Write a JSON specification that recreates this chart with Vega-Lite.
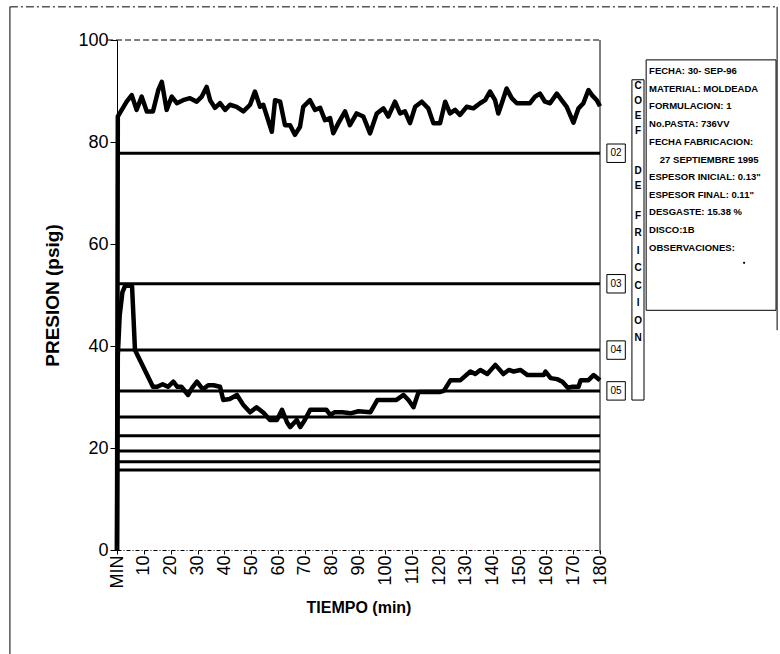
{
  "$schema": "https://vega.github.io/schema/vega-lite/v6.json",
  "width": 483,
  "height": 510,
  "autosize": {"type": "none"},
  "padding": {"left": 117, "top": 40, "right": 180, "bottom": 104},
  "background": "white",
  "config": {"view": {"stroke": null}, "font": "Liberation Sans", "axisX": {"labelOverlap": false}},
  "datasets": {
    "presion": [
      {"t": 0, "p": 0, "s": "A"}, {"t": 0.3, "p": 85, "s": "A"}, {"t": 1.1, "p": 85.7, "s": "A"}, {"t": 3.6, "p": 87.9, "s": "A"}, {"t": 5.5, "p": 89.2, "s": "A"}, {"t": 7.3, "p": 86.3, "s": "A"}, {"t": 9.2, "p": 88.9, "s": "A"}, {"t": 11.1, "p": 86, "s": "A"}, {"t": 13.4, "p": 86, "s": "A"}, {"t": 15.4, "p": 90.2, "s": "A"}, {"t": 16.7, "p": 91.8, "s": "A"}, {"t": 18.5, "p": 86.3, "s": "A"}, {"t": 20.4, "p": 88.9, "s": "A"}, {"t": 22.3, "p": 87.6, "s": "A"}, {"t": 24.6, "p": 88.2, "s": "A"}, {"t": 27.2, "p": 88.6, "s": "A"}, {"t": 29.7, "p": 87.9, "s": "A"}, {"t": 31.6, "p": 88.9, "s": "A"}, {"t": 33.4, "p": 90.8, "s": "A"}, {"t": 34.7, "p": 88.2, "s": "A"}, {"t": 36.5, "p": 86.7, "s": "A"}, {"t": 38.4, "p": 87.6, "s": "A"}, {"t": 40.3, "p": 86.3, "s": "A"}, {"t": 42.1, "p": 87.3, "s": "A"}, {"t": 44.6, "p": 86.9, "s": "A"}, {"t": 47.1, "p": 86, "s": "A"}, {"t": 49.6, "p": 87.3, "s": "A"}, {"t": 51.4, "p": 89.9, "s": "A"}, {"t": 53.3, "p": 86.9, "s": "A"}, {"t": 54.5, "p": 87.3, "s": "A"}, {"t": 57.7, "p": 82, "s": "A"}, {"t": 58.9, "p": 88.2, "s": "A"}, {"t": 60.8, "p": 87.9, "s": "A"}, {"t": 62.6, "p": 83.3, "s": "A"}, {"t": 64.5, "p": 83.3, "s": "A"}, {"t": 66.3, "p": 81.4, "s": "A"}, {"t": 68.2, "p": 83, "s": "A"}, {"t": 69.4, "p": 86.9, "s": "A"}, {"t": 71.9, "p": 88.2, "s": "A"}, {"t": 73.8, "p": 86.3, "s": "A"}, {"t": 75.7, "p": 86.7, "s": "A"}, {"t": 77.5, "p": 84.3, "s": "A"}, {"t": 79.4, "p": 84.7, "s": "A"}, {"t": 80.6, "p": 81.7, "s": "A"}, {"t": 82.5, "p": 83.7, "s": "A"}, {"t": 85, "p": 86, "s": "A"}, {"t": 86.8, "p": 83.3, "s": "A"}, {"t": 89.3, "p": 85.6, "s": "A"}, {"t": 91.8, "p": 85, "s": "A"}, {"t": 94.3, "p": 81.7, "s": "A"}, {"t": 96.8, "p": 85.6, "s": "A"}, {"t": 99.3, "p": 86.6, "s": "A"}, {"t": 101.1, "p": 85, "s": "A"}, {"t": 103.6, "p": 87.9, "s": "A"}, {"t": 105.5, "p": 85.6, "s": "A"}, {"t": 107.3, "p": 86, "s": "A"}, {"t": 109.2, "p": 83.7, "s": "A"}, {"t": 111.1, "p": 86.9, "s": "A"}, {"t": 113.6, "p": 87.9, "s": "A"}, {"t": 116, "p": 86.6, "s": "A"}, {"t": 117.9, "p": 83.7, "s": "A"}, {"t": 120.4, "p": 83.7, "s": "A"}, {"t": 122.3, "p": 87.9, "s": "A"}, {"t": 124.1, "p": 85.6, "s": "A"}, {"t": 126, "p": 86.3, "s": "A"}, {"t": 127.8, "p": 85.3, "s": "A"}, {"t": 130.3, "p": 86.9, "s": "A"}, {"t": 132.8, "p": 86.6, "s": "A"}, {"t": 135.3, "p": 87.6, "s": "A"}, {"t": 137.2, "p": 88.2, "s": "A"}, {"t": 139, "p": 89.9, "s": "A"}, {"t": 140.9, "p": 88.2, "s": "A"}, {"t": 142.1, "p": 85.6, "s": "A"}, {"t": 143.4, "p": 87.6, "s": "A"}, {"t": 145.2, "p": 90.5, "s": "A"}, {"t": 147.1, "p": 88.6, "s": "A"}, {"t": 149, "p": 87.6, "s": "A"}, {"t": 151.4, "p": 87.6, "s": "A"}, {"t": 153.9, "p": 87.6, "s": "A"}, {"t": 155.8, "p": 88.9, "s": "A"}, {"t": 157.6, "p": 89.5, "s": "A"}, {"t": 159.5, "p": 87.9, "s": "A"}, {"t": 161.4, "p": 87.6, "s": "A"}, {"t": 163.9, "p": 89.5, "s": "A"}, {"t": 165.7, "p": 88.2, "s": "A"}, {"t": 167.6, "p": 86.9, "s": "A"}, {"t": 170.1, "p": 83.8, "s": "A"}, {"t": 172, "p": 86.6, "s": "A"}, {"t": 173.8, "p": 87.6, "s": "A"}, {"t": 175.7, "p": 90.2, "s": "A"}, {"t": 177, "p": 89.2, "s": "A"}, {"t": 178.8, "p": 88.2, "s": "A"}, {"t": 180, "p": 87, "s": "A"},
      {"t": 0, "p": 0, "s": "B"}, {"t": 0.3, "p": 38, "s": "B"}, {"t": 1, "p": 46, "s": "B"}, {"t": 2, "p": 50.5, "s": "B"}, {"t": 3, "p": 51.8, "s": "B"}, {"t": 5.6, "p": 51.8, "s": "B"}, {"t": 6.2, "p": 45, "s": "B"}, {"t": 6.7, "p": 39.2, "s": "B"}, {"t": 13.4, "p": 32, "s": "B"}, {"t": 15, "p": 32, "s": "B"}, {"t": 17, "p": 32.5, "s": "B"}, {"t": 19, "p": 32, "s": "B"}, {"t": 21, "p": 33, "s": "B"}, {"t": 22.5, "p": 32, "s": "B"}, {"t": 24, "p": 32, "s": "B"}, {"t": 26.5, "p": 30.4, "s": "B"}, {"t": 28, "p": 31.8, "s": "B"}, {"t": 29.8, "p": 33, "s": "B"}, {"t": 32, "p": 31.5, "s": "B"}, {"t": 34, "p": 32.3, "s": "B"}, {"t": 36, "p": 32.3, "s": "B"}, {"t": 38.4, "p": 32, "s": "B"}, {"t": 39.6, "p": 29.4, "s": "B"}, {"t": 42, "p": 29.6, "s": "B"}, {"t": 44.7, "p": 30.4, "s": "B"}, {"t": 47, "p": 28.5, "s": "B"}, {"t": 49.6, "p": 27, "s": "B"}, {"t": 52, "p": 28, "s": "B"}, {"t": 54.6, "p": 26.9, "s": "B"}, {"t": 57, "p": 25.5, "s": "B"}, {"t": 59.6, "p": 25.5, "s": "B"}, {"t": 61.5, "p": 27.5, "s": "B"}, {"t": 63.4, "p": 25, "s": "B"}, {"t": 64.5, "p": 24.1, "s": "B"}, {"t": 67, "p": 25.5, "s": "B"}, {"t": 68.3, "p": 24.1, "s": "B"}, {"t": 70, "p": 25.5, "s": "B"}, {"t": 72, "p": 27.5, "s": "B"}, {"t": 78, "p": 27.5, "s": "B"}, {"t": 79.5, "p": 26.5, "s": "B"}, {"t": 81, "p": 27, "s": "B"}, {"t": 84, "p": 27, "s": "B"}, {"t": 87, "p": 26.8, "s": "B"}, {"t": 90, "p": 27.2, "s": "B"}, {"t": 94.4, "p": 27, "s": "B"}, {"t": 97, "p": 29.4, "s": "B"}, {"t": 99, "p": 29.4, "s": "B"}, {"t": 102, "p": 29.4, "s": "B"}, {"t": 104, "p": 29.4, "s": "B"}, {"t": 106.8, "p": 30.4, "s": "B"}, {"t": 108.6, "p": 29.4, "s": "B"}, {"t": 110.5, "p": 28, "s": "B"}, {"t": 112.4, "p": 31, "s": "B"}, {"t": 120.5, "p": 31, "s": "B"}, {"t": 121.8, "p": 31.2, "s": "B"}, {"t": 124.3, "p": 33.3, "s": "B"}, {"t": 128, "p": 33.3, "s": "B"}, {"t": 129.5, "p": 34, "s": "B"}, {"t": 131.7, "p": 35, "s": "B"}, {"t": 133.5, "p": 34.5, "s": "B"}, {"t": 135.4, "p": 35.3, "s": "B"}, {"t": 138, "p": 34.5, "s": "B"}, {"t": 141, "p": 36.3, "s": "B"}, {"t": 144, "p": 34.5, "s": "B"}, {"t": 146, "p": 35.3, "s": "B"}, {"t": 147.8, "p": 35, "s": "B"}, {"t": 150.4, "p": 35.3, "s": "B"}, {"t": 153, "p": 34.3, "s": "B"}, {"t": 159, "p": 34.3, "s": "B"}, {"t": 159.7, "p": 35, "s": "B"}, {"t": 161.6, "p": 33.7, "s": "B"}, {"t": 164, "p": 33.5, "s": "B"}, {"t": 166, "p": 33, "s": "B"}, {"t": 168, "p": 31.8, "s": "B"}, {"t": 169.8, "p": 32, "s": "B"}, {"t": 172, "p": 32, "s": "B"}, {"t": 172.8, "p": 33.3, "s": "B"}, {"t": 175.7, "p": 33.3, "s": "B"}, {"t": 177.6, "p": 34.3, "s": "B"}, {"t": 180, "p": 33.3, "s": "B"}
    ],
    "coef": [
      {"etiqueta": "02", "p": 77.8},
      {"etiqueta": "03", "p": 52.2},
      {"etiqueta": "04", "p": 39.2},
      {"etiqueta": "05", "p": 31.2},
      {"etiqueta": "", "p": 26.1},
      {"etiqueta": "", "p": 22.4},
      {"etiqueta": "", "p": 19.4},
      {"etiqueta": "", "p": 17.3},
      {"etiqueta": "", "p": 15.7}
    ]
  },
  "layer": [
    {
      "data": {"name": "presion"},
      "mark": {"type": "line", "color": "black", "strokeWidth": 4.5, "strokeJoin": "round", "clip": false},
      "encoding": {
        "x": {
          "field": "t", "type": "quantitative",
          "scale": {"domain": [0, 180], "nice": false},
          "axis": {
            "title": "TIEMPO (min)",
            "values": [0, 10, 20, 30, 40, 50, 60, 70, 80, 90, 100, 110, 120, 130, 140, 150, 160, 170, 180],
            "tickCount": 40,
            "labelExpr": "datum.value == 0 ? 'MIN' : datum.label",
            "labelAngle": -90, "labelAlign": "right", "labelBaseline": "middle",
            "labelFontSize": 18, "labelColor": "black", "labelPadding": 1,
            "labelOverlap": false, "labelFlush": false,
            "tickSize": 4, "tickColor": "black", "domainColor": "black", "domainDash": [4, 2, 1, 2], "domainWidth": 1,
            "grid": false,
            "titleFont": "Liberation Sans", "titleFontSize": 16, "titleFontWeight": "bold", "titleColor": "black", "titlePadding": 12
          }
        },
        "y": {
          "field": "p", "type": "quantitative",
          "scale": {"domain": [0, 100], "nice": false},
          "axis": {
            "title": "PRESION (psig)",
            "values": [0, 20, 40, 60, 80, 100],
            "labelFontSize": 18, "labelColor": "black", "labelPadding": 2,
            "tickSize": 7, "tickColor": "black", "domainColor": "black", "domainWidth": 1,
            "grid": false,
            "titleFontSize": 19, "titleFontWeight": "bold", "titleColor": "black", "titlePadding": 15
          }
        },
        "detail": {"field": "s"}
      }
    },
    {
      "data": {"name": "coef"},
      "mark": {"type": "rule", "color": "black", "strokeWidth": 3},
      "encoding": {
        "x": {"datum": 0, "type": "quantitative"},
        "x2": {"datum": 180},
        "y": {"field": "p", "type": "quantitative"}
      }
    },
    {
      "data": {"name": "coef"},
      "transform": [{"filter": "datum.etiqueta != ''"}],
      "mark": {"type": "point", "shape": "square", "size": 340, "filled": false, "color": "black", "strokeWidth": 1, "opacity": 1},
      "encoding": {
        "x": {"datum": 186, "type": "quantitative"},
        "y": {"field": "p", "type": "quantitative"}
      }
    },
    {
      "data": {"name": "coef"},
      "transform": [{"filter": "datum.etiqueta != ''"}],
      "mark": {"type": "text", "fontSize": 10, "color": "black", "align": "center", "baseline": "middle"},
      "encoding": {
        "x": {"datum": 186, "type": "quantitative"},
        "y": {"field": "p", "type": "quantitative"},
        "text": {"field": "etiqueta"}
      }
    },
    {
      "data": {"values": [{}]},
      "mark": {"type": "rule", "color": "black", "strokeWidth": 1, "strokeDash": [6, 3]},
      "encoding": {"x": {"datum": -3.7, "type": "quantitative"}, "x2": {"datum": 180}, "y": {"datum": 100, "type": "quantitative"}}
    },
    {
      "data": {"values": [{}]},
      "mark": {"type": "rule", "color": "black", "strokeWidth": 1},
      "encoding": {"x": {"datum": 180, "type": "quantitative"}, "y": {"datum": 100, "type": "quantitative"}, "y2": {"datum": -0.6}}
    },
    {
      "data": {"values": [{}]},
      "mark": {"type": "rule", "color": "black", "strokeWidth": 1},
      "encoding": {"x": {"datum": -39.9, "type": "quantitative"}, "y": {"datum": 106.5, "type": "quantitative"}, "y2": {"datum": -20.4}}
    },
    {
      "data": {"values": [{}]},
      "mark": {"type": "rule", "color": "black", "strokeWidth": 1, "strokeDash": [8, 3, 2, 3]},
      "encoding": {"x": {"datum": -39.9, "type": "quantitative"}, "x2": {"datum": 246}, "y": {"datum": 106.5, "type": "quantitative"}}
    },
    {
      "data": {"values": [{}]},
      "mark": {"type": "rule", "color": "black", "strokeWidth": 1},
      "encoding": {"x": {"datum": 246, "type": "quantitative"}, "y": {"datum": 106.5, "type": "quantitative"}, "y2": {"datum": 43.1}}
    },
    {
      "data": {"values": [{}]},
      "mark": {"type": "rect", "fill": "white", "stroke": "black", "strokeWidth": 1},
      "encoding": {"x": {"datum": 191.9, "type": "quantitative"}, "x2": {"datum": 196.4}, "y": {"datum": 92.2, "type": "quantitative"}, "y2": {"datum": 29.4}}
    },
    {
      "data": {"values": [{}]},
      "mark": {"type": "text", "align": "center", "baseline": "top", "lineHeight": 15, "fontSize": 10, "fontWeight": "bold", "color": "black", "text": ["C", "O", "E", "F"]},
      "encoding": {"x": {"datum": 194.2, "type": "quantitative"}, "y": {"datum": 92.0, "type": "quantitative"}}
    },
    {
      "data": {"values": [{}]},
      "mark": {"type": "text", "align": "center", "baseline": "top", "lineHeight": 15, "fontSize": 10, "fontWeight": "bold", "color": "black", "text": ["D", "E"]},
      "encoding": {"x": {"datum": 194.2, "type": "quantitative"}, "y": {"datum": 75.3, "type": "quantitative"}}
    },
    {
      "data": {"values": [{}]},
      "mark": {"type": "text", "align": "center", "baseline": "top", "lineHeight": 17.5, "fontSize": 10, "fontWeight": "bold", "color": "black", "text": ["F", "R", "I", "C", "C", "I", "O", "N"]},
      "encoding": {"x": {"datum": 194.2, "type": "quantitative"}, "y": {"datum": 66.5, "type": "quantitative"}}
    },
    {
      "data": {"values": [{}]},
      "mark": {"type": "rect", "fill": "white", "stroke": "black", "strokeWidth": 1},
      "encoding": {"x": {"datum": 197.2, "type": "quantitative"}, "x2": {"datum": 245.6}, "y": {"datum": 96.1, "type": "quantitative"}, "y2": {"datum": 47}}
    },
    {
      "data": {"values": [{}]},
      "mark": {
        "type": "text", "align": "left", "baseline": "top", "lineHeight": 17.7, "fontSize": 9.5, "font": "Liberation Sans", "fontWeight": "bold", "color": "black",
        "text": ["FECHA: 30- SEP-96", "MATERIAL: MOLDEADA", "FORMULACION: 1", "No.PASTA: 736VV", "FECHA FABRICACION:"]
      },
      "encoding": {"x": {"datum": 198.3, "type": "quantitative"}, "y": {"datum": 94.9, "type": "quantitative"}}
    },
    {
      "data": {"values": [{}]},
      "mark": {"type": "text", "align": "left", "baseline": "top", "fontSize": 9.5, "font": "Liberation Sans", "fontWeight": "bold", "color": "black", "text": "27  SEPTIEMBRE 1995"},
      "encoding": {"x": {"datum": 202.3, "type": "quantitative"}, "y": {"datum": 77.5, "type": "quantitative"}}
    },
    {
      "data": {"values": [{}]},
      "mark": {
        "type": "text", "align": "left", "baseline": "top", "lineHeight": 17.7, "fontSize": 9.5, "font": "Liberation Sans", "fontWeight": "bold", "color": "black",
        "text": ["ESPESOR INICIAL: 0.13\"", "ESPESOR FINAL: 0.11\"", "DESGASTE:  15.38 %", "DISCO:1B", "OBSERVACIONES:"]
      },
      "encoding": {"x": {"datum": 198.3, "type": "quantitative"}, "y": {"datum": 74.1, "type": "quantitative"}}
    },
    {
      "data": {"values": [{}]},
      "mark": {"type": "point", "shape": "circle", "size": 5, "filled": true, "color": "black", "opacity": 1},
      "encoding": {"x": {"datum": 233.7, "type": "quantitative"}, "y": {"datum": 56.3, "type": "quantitative"}}
    }
  ]
}
